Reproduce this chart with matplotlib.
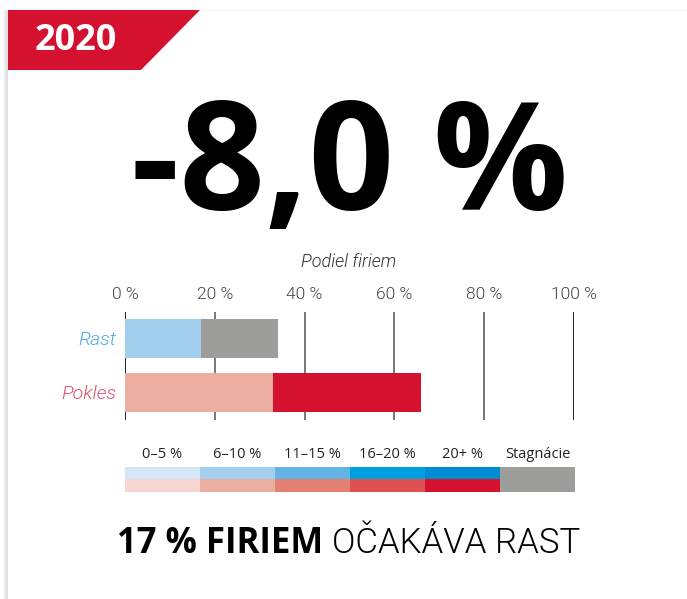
import matplotlib
matplotlib.use("Agg")
import matplotlib.pyplot as plt
from matplotlib.patches import Polygon, Rectangle

# hodnoty grafu
rok = "2020"
zmena_trzieb = -8.0
kategorie = ["Rast", "Pokles"]
podiel_mierny = [17, 33]      # Rast: 6–10 %, Pokles: 6–10 %
podiel_druhy = [17, 33]       # Rast: stagnácie, Pokles: 20+ %
osi_ticky = [0, 20, 40, 60, 80, 100]
legenda_popisky = ["0–5 %", "6–10 %", "11–15 %", "16–20 %", "20+ %", "Stagnácie"]
modre = ["#D4E6F7", "#A3CFEF", "#62B4E4", "#00A0DE", "#008BD2"]
cervene = ["#F7D6D1", "#EDAEA2", "#E58174", "#DE5152", "#D51130"]
seda = "#9D9D9B"
cervena = "#D51130"

TENKE = "Roboto"

W, H = 687, 599
fig = plt.figure(figsize=(W / 100, H / 100), dpi=100)
fig.patch.set_facecolor("white")

# pozadie v pixelových súradniciach
bg = fig.add_axes([0, 0, 1, 1])
bg.set_xlim(0, W)
bg.set_ylim(H, 0)
bg.axis("off")

# tieň karty
for i, c in enumerate(["#F7F7F7", "#F0F0F0", "#E8E8E8", "#E2E2E2", "#DDDDDD"]):
    bg.add_patch(Rectangle((3 + i, 10), 1, H, color=c, lw=0))
bg.plot([200, W], [10, 10], color="#F2F2F2", lw=1)

# červený štítok s rokom
bg.add_patch(Polygon([(8, 10), (200, 10), (141, 70), (8, 70)], closed=True,
                     color=cervena, lw=0))
bg.text(76, 41, rok, color="white", fontsize=26, fontweight="bold",
        family="Open Sans", ha="center", va="center")

# veľké číslo
hlavny = f"{zmena_trzieb:.1f}".replace(".", ",") + " %"
bg.text(350, 210, hlavny, fontsize=108, fontweight="bold", family="Open Sans",
        ha="center", va="baseline", color="black")

bg.text(349, 267, "Podiel firiem", fontsize=13, style="italic",
        fontweight=300, family=TENKE, ha="center", va="baseline", color="#333333")

# pruhový graf
ax = fig.add_axes([125 / W, (H - 420) / H, 449 / W, 108 / H])
y = list(range(len(kategorie)))
farby_1 = [modre[1], cervene[1]]
farby_2 = [seda, cervene[4]]
ax.barh(y, podiel_mierny, height=0.72, color=farby_1, zorder=3)
ax.barh(y, podiel_druhy, left=podiel_mierny, height=0.72, color=farby_2, zorder=3)
ax.set_xlim(0, 100)
ax.set_ylim(1.51, -0.49)
for t in osi_ticky:
    col = "#222222" if t in (0, 100) else "#777777"
    ax.axvline(t, color=col, lw=1.4, zorder=1)
for s in ax.spines.values():
    s.set_visible(False)
ax.xaxis.tick_top()
ax.set_xticks(osi_ticky)
ax.set_xticklabels([f"{t} %" for t in osi_ticky], fontsize=12.5,
                   color="#444444", family=TENKE, fontweight=300)
ax.tick_params(axis="x", length=0, pad=7)
ax.set_yticks(y)
ax.set_yticklabels(kategorie, fontsize=14, style="italic", family=TENKE,
                   fontweight=300)
ax.tick_params(axis="y", length=0, pad=6)
for lab, c in zip(ax.get_yticklabels(), ["#4AAEE3", "#E2506C"]):
    lab.set_color(c)
ax.set_facecolor("none")

# legenda
x0, sirka = 125, 75
for i, popis in enumerate(legenda_popisky):
    x = x0 + i * sirka
    bg.text(x + sirka / 2, 458, popis, fontsize=10.5, family="Open Sans",
            ha="center", va="baseline", color="#222222")
    if i < len(modre):
        bg.add_patch(Rectangle((x, 467), sirka, 12, color=modre[i], lw=0))
        bg.add_patch(Rectangle((x, 479), sirka, 13, color=cervene[i], lw=0))
    else:
        bg.add_patch(Rectangle((x, 467), sirka, 25, color=seda, lw=0))

# spodný nadpis
tucne = f"{podiel_mierny[0]} % FIRIEM "
tenke = "OČAKÁVA RAST"
t1 = bg.text(0, 553, tucne, fontsize=25, fontweight="bold", family="Open Sans",
             ha="left", va="baseline", color="black")
t2 = bg.text(0, 553, tenke, fontsize=25, fontweight=300, family=TENKE,
             ha="left", va="baseline", color="black")
fig.canvas.draw()
r = fig.canvas.get_renderer()
inv = bg.transData.inverted()
def sirka_textu(t):
    bb = t.get_window_extent(r)
    a = inv.transform((bb.x0, bb.y0))
    b = inv.transform((bb.x1, bb.y0))
    return b[0] - a[0]
w1, w2 = sirka_textu(t1), sirka_textu(t2)
start = 349 - (w1 + w2) / 2
t1.set_x(start)
t2.set_x(start + w1)

fig.savefig("out.png", dpi=100)
